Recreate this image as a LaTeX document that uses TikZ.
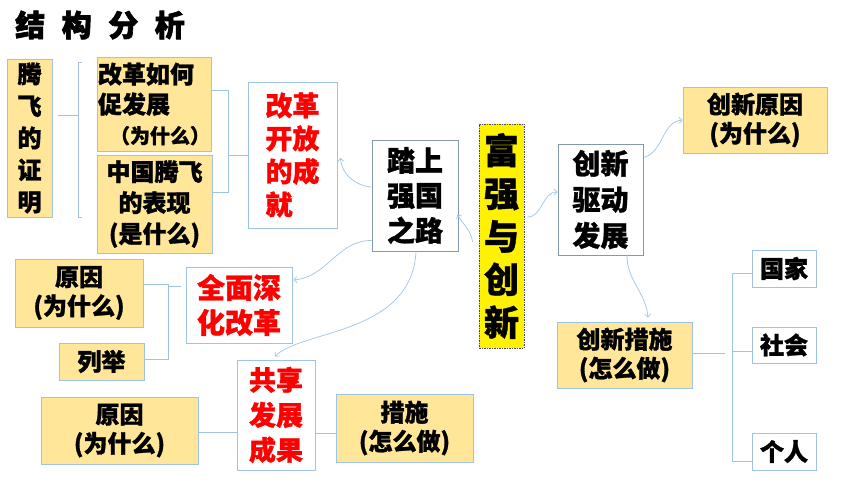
\documentclass[tikz,border=0pt]{standalone}
\usepackage{fontspec}
\setmainfont{Noto Sans CJK SC}[BoldFeatures={FakeBold=1.2}]
\newfontfamily\titlefont{Noto Sans CJK SC}[BoldFeatures={FakeBold=2.2}]
\usetikzlibrary{arrows.meta}
\definecolor{boxyellow}{HTML}{FFE699}
\definecolor{lineblue}{HTML}{9DC3E6}
\definecolor{darkblue}{HTML}{8497B0}
\definecolor{redtext}{HTML}{FF0000}
\tikzset{
  base/.style={draw=lineblue, line width=0.9pt, inner sep=0pt, font=\bfseries, text=black},
  ybox/.style={base, fill=boxyellow},
  wbox/.style={base, fill=white},
  rbox/.style={base, fill=white, text=redtext},
  dbox/.style={base, fill=white, draw=darkblue},
  link/.style={draw=lineblue, line width=0.8pt},
  curvearrow/.style={draw=lineblue, line width=0.7pt, -{Straight Barb[length=3pt,width=6pt]}},
}
\begin{document}
\begin{tikzpicture}[x=1pt,y=-1pt]
\useasboundingbox (0,0) rectangle (860,484);

% title
\node (title) at (100,25) {\titlefont\fontsize{30}{32}\selectfont\bfseries 结\hspace{0.55em}构\hspace{0.55em}分\hspace{0.55em}析};

% left upper part
\node[ybox, minimum width=45, minimum height=158, align=center, font=\bfseries\fontsize{24}{32}\selectfont] (teng) at (29.5,138) {腾\\飞\\的\\证\\明};
\node[ybox, minimum width=114, minimum height=94, align=left, font=\bfseries\fontsize{24}{30}\selectfont] (gaige) at (154,104) {改革如何\\促发展\\\hspace{0.5em}\fontsize{20}{30}\selectfont（为什么）};
\node[ybox, minimum width=115, minimum height=98, align=center, font=\bfseries\fontsize{24}{31}\selectfont] (biaoxian) at (154.5,204) {中国腾飞\\的表现\\(是什么)};
\node[rbox, minimum width=89, minimum height=146, align=left, font=\bfseries\fontsize{27}{33}\selectfont] (chengjiu) at (292.5,155) {改革\\开放\\的成\\就};

% centre
\node[dbox, minimum width=86, minimum height=111, align=center, font=\bfseries\fontsize{28}{35}\selectfont] (tashang) at (415,195.5) {踏上\\强国\\之路};
\node[draw=black!70, dashed, dash pattern=on 1.5pt off 1pt, line width=0.6pt, fill=yellow, minimum width=45, minimum height=224, inner sep=0pt, align=center, font=\bfseries\fontsize{35}{43}\selectfont] (fuqiang) at (501.5,236) {富\\强\\与\\创\\新};
\node[dbox, minimum width=85, minimum height=111, align=center, font=\bfseries\fontsize{28}{36}\selectfont] (qudong) at (600.5,199.5) {创新\\驱动\\发展};

% right part
\node[ybox, minimum width=144, minimum height=66, align=center, font=\bfseries\fontsize{24}{29}\selectfont] (yuanyinA) at (755,120) {创新原因\\(为什么)};
\node[ybox, minimum width=135, minimum height=66, align=center, font=\bfseries\fontsize{24}{29}\selectfont] (cuoshiA) at (624.5,355) {创新措施\\(怎么做)};
\node[wbox, minimum width=64, minimum height=37, font=\bfseries\fontsize{24}{26}\selectfont] (guojia) at (784,268.5) {国家};
\node[wbox, minimum width=64, minimum height=36, font=\bfseries\fontsize{24}{26}\selectfont] (shehui) at (784,345) {社会};
\node[wbox, minimum width=64, minimum height=37, font=\bfseries\fontsize{24}{26}\selectfont] (geren) at (784,451.5) {个人};

% lower left part
\node[ybox, minimum width=128, minimum height=68, align=center, font=\bfseries\fontsize{24}{29}\selectfont] (yuanyinB) at (79,293) {原因\\(为什么)};
\node[ybox, minimum width=85, minimum height=37, font=\bfseries\fontsize{24}{26}\selectfont] (lieju) at (101.5,361.5) {列举\hspace{1em}};
\node[rbox, minimum width=106, minimum height=76, align=center, font=\bfseries\fontsize{28}{35}\selectfont] (shenhua) at (239,305) {全面深\\化改革};
\node[rbox, minimum width=78, minimum height=110, align=center, font=\bfseries\fontsize{27}{35}\selectfont] (gongxiang) at (276,415) {共享\\发展\\成果};
\node[ybox, minimum width=157, minimum height=67, align=center, font=\bfseries\fontsize{24}{29}\selectfont] (yuanyinC) at (119.5,430.5) {原因\\(为什么)};
\node[ybox, minimum width=137, minimum height=68, align=center, font=\bfseries\fontsize{24}{29}\selectfont] (cuoshiB) at (404.5,428) {措施\\(怎么做)};

% bracket: 腾飞的证明
\coordinate (b1top) at (82,62);
\coordinate (b1mid) at (78,115);
\coordinate (b1bot) at (82,217);
\draw[link] (b1top) -- (78,62) -- (78,217) -- (b1bot);
\draw[link] ([xshift=6pt]teng.east |- b1mid) -- (b1mid);

% bracket: two boxes -> 成就
\coordinate (b2a) at (228,90);
\coordinate (b2b) at (228,192);
\coordinate (b2m) at (228,155);
\draw[link] (gaige.east |- b2a) -- (b2a) -- (b2b) -- (biaoxian.east |- b2b);
\draw[link] (b2m) -- (chengjiu.west |- b2m);

% bracket: 原因/列举 -> 全面深化改革
\coordinate (b3a) at (168,284);
\coordinate (b3b) at (168,359);
\coordinate (b3m) at (168,286);
\draw[link] (yuanyinB.east |- b3a) -- (b3a) -- (b3b) -- (lieju.east |- b3b);
\draw[link] (b3m) -- ([xshift=-5pt]shenhua.west |- b3m);

% lines around 共享发展成果
\draw[link] (yuanyinC.east |- 0,432) -- (gongxiang.west |- 0,432);
\draw[link] (gongxiang.east |- 0,433) -- (cuoshiB.west |- 0,433);

% bracket: 创新措施 -> 国家 社会 个人
\coordinate (b4top) at (732,273);
\coordinate (b4mid) at (725,353);
\coordinate (b4soc) at (732,351);
\coordinate (b4bot) at (732,461);
\draw[link] (cuoshiA.east |- b4mid) -- (b4mid);
\draw[link] (guojia.west |- b4top) -- (b4top) -- (b4bot) -- (geren.west |- b4bot);
\draw[link] (b4soc) -- (shehui.west |- b4soc);

% curved arrows
\draw[curvearrow] ([yshift=8.5pt]tashang.west) to[out=175,in=-85] ([xshift=3pt,yshift=-3pt]chengjiu.east);
\draw[curvearrow] ([xshift=-6pt,yshift=-6pt]fuqiang.west) to[out=100,in=-60] ([xshift=-1pt,yshift=-19pt]tashang.east);
\draw[curvearrow] ([xshift=3pt,yshift=19pt]fuqiang.east) to[out=0,in=180] ([yshift=7.5pt]qudong.west);
\draw[curvearrow] ([yshift=-14pt]qudong.north east) to[out=15,in=185] (yuanyinA.west);
\draw[curvearrow] ([xshift=26.5pt]qudong.south) to[out=-90,in=95] ([xshift=23.5pt,yshift=4pt]cuoshiA.north);
\draw[curvearrow] ([yshift=11pt]tashang.south west) to[out=180,in=5] ([xshift=1pt,yshift=25pt]shenhua.east);
\draw[curvearrow] ([xshift=1pt]tashang.south) .. controls (412,335) and (300,330) .. ([xshift=-1pt,yshift=3pt]gongxiang.north);
\end{tikzpicture}
\end{document}
